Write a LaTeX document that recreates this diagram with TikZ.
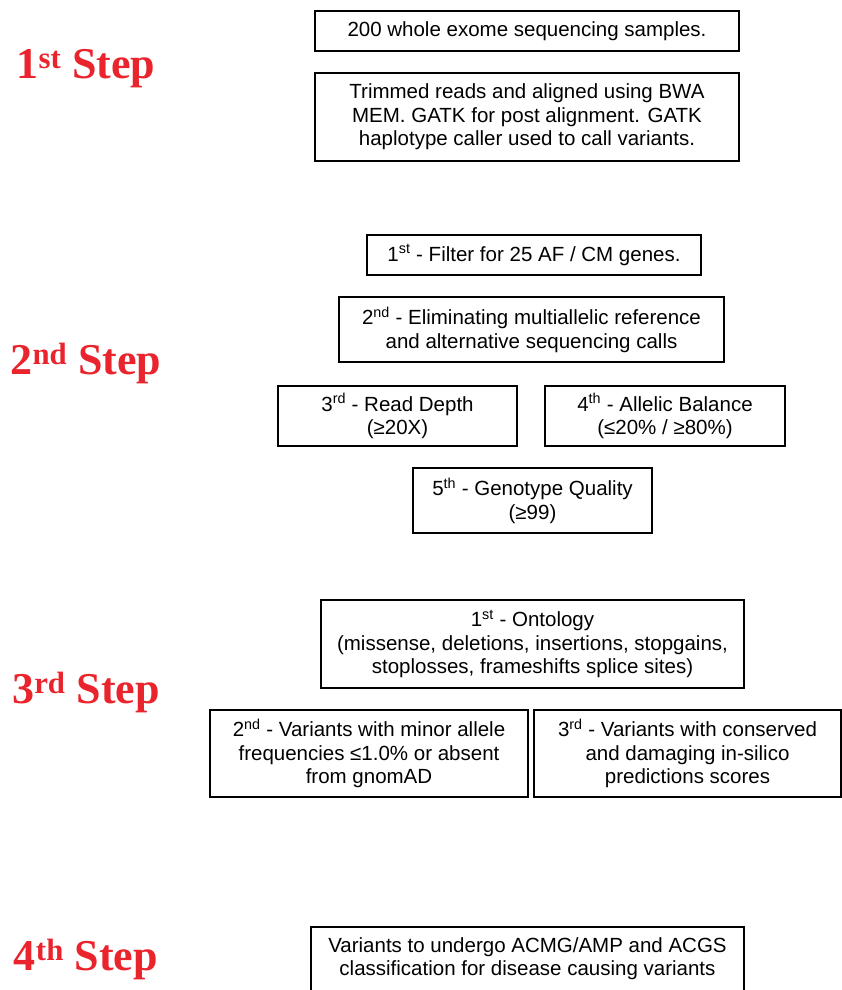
\documentclass[tikz,border=0pt]{standalone}
\usepackage{fontspec}
\setmainfont{Liberation Sans}
\newfontfamily\stepfont{Liberation Serif}
\definecolor{stepRed}{RGB}{234,36,44}
\usetikzlibrary{positioning}

\begin{document}
\begin{tikzpicture}[x=1pt, y=-1pt,
    filterbox/.style={draw=black, line width=1.3pt, align=center, inner sep=0pt,
        font=\fontsize{20.5}{23.5}\selectfont},
    steplabel/.style={anchor=base, text=stepRed, font=\stepfont\bfseries\fontsize{44}{48}\selectfont}]
    \useasboundingbox (0,0) rectangle (842,990);

    % step labels
    \node[steplabel] (stepA) at (86,78) {1\textsuperscript{st} Step};
    \node[steplabel] (stepB) at (86,374) {2\textsuperscript{nd} Step};
    \node[steplabel] (stepC) at (86,703) {3\textsuperscript{rd} Step};
    \node[steplabel] (stepD) at (86,970) {4\textsuperscript{th} Step};

    % 1st step
    \node[filterbox, minimum width=424pt, minimum height=40pt] (samples) at (527,31) {200 whole exome sequencing samples.};
    \node[filterbox, minimum width=424pt, minimum height=88pt] (align) at (527,117)
        {Trimmed reads and aligned using BWA\\MEM. GATK for post alignment. GATK\\haplotype caller used to call variants.};

    % 2nd step
    \node[filterbox, minimum width=334pt, minimum height=40pt] (genes) at (534,255) {1\textsuperscript{st} - Filter for 25 AF / CM genes.};
    \node[filterbox, minimum width=385pt, minimum height=65pt] (multi) at (531.5,329.5)
        {2\textsuperscript{nd} - Eliminating multiallelic reference\\and alternative sequencing calls};
    \node[filterbox, minimum width=239pt, minimum height=60pt] (depth) at (397.5,416) {3\textsuperscript{rd} - Read Depth\\(≥20X)};
    \node[filterbox, minimum width=240pt, minimum height=60pt] (balance) at (665,416) {4\textsuperscript{th} - Allelic Balance\\(≤20\% / ≥80\%)};
    \node[filterbox, minimum width=239pt, minimum height=65pt] (quality) at (532.5,500.5) {5\textsuperscript{th} - Genotype Quality\\(≥99)};

    % 3rd step
    \node[filterbox, minimum width=423pt, minimum height=88pt] (ontology) at (532.5,644)
        {1\textsuperscript{st} - Ontology\\(missense, deletions, insertions, stopgains,\\stoplosses, frameshifts splice sites)};
    \node[filterbox, minimum width=318pt, minimum height=87pt] (maf) at (369,753.5)
        {2\textsuperscript{nd} - Variants with minor allele\\frequencies ≤1.0\% or absent\\from gnomAD};
    \node[filterbox, minimum width=307pt, minimum height=87pt] (insilico) at (687.5,753.5)
        {3\textsuperscript{rd} - Variants with conserved\\and damaging in-silico\\predictions scores};

    % 4th step (box runs past the bottom edge)
    \node[filterbox, minimum width=433pt, minimum height=99pt] (acmg) at (527.5,976.5)
        {Variants to undergo ACMG/AMP and ACGS\\classification for disease causing variants\\[16pt]};
\end{tikzpicture}
\end{document}
